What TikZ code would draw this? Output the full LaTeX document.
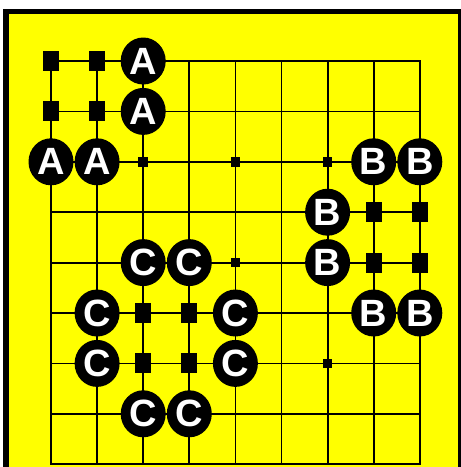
\documentclass[tikz,border=0pt]{standalone}
\usepackage{fontspec}
\setmainfont{Liberation Sans}
\usetikzlibrary{shapes.geometric}

\definecolor{boardyellow}{RGB}{255,255,0}

\tikzset{
  stone/.style={ellipse, fill=black, minimum width=45pt, minimum height=47pt,
    inner sep=0pt, text=white, font=\fontsize{38}{38}\selectfont\bfseries},
  marksq/.style={rectangle, fill=black, minimum width=16pt, minimum height=20pt, inner sep=0pt},
  starpt/.style={rectangle, fill=black, minimum size=9.5pt, inner sep=0pt},
  gridline/.style={line width=1.8pt, line cap=rect},
}

\begin{document}
\begin{tikzpicture}[x=46.1pt, y=-50.4pt]
  \useasboundingbox (0pt,0pt) rectangle (461pt,-467pt);

  % frame
  \fill[black] (3pt,-8.5pt) rectangle (461pt,-470pt);
  \fill[boardyellow] (9pt,-13.5pt) rectangle (458pt,-470pt);

  \begin{scope}[shift={(4.9pt,-10.6pt)}]
    % grid
    \foreach \i in {1,...,9} {
      \draw[gridline] (\i,1) -- (\i,9);
      \draw[gridline] (1,\i) -- (9,\i);
    }

    % star points
    \foreach \c/\r in {3/3,5/3,7/3,5/5,7/7}
      \node[starpt] (s\c\r) at (\c,\r) {};

    % marked points
    \foreach \c/\r in {1/1,2/1,1/2,2/2, 8/4,9/4,8/5,9/5, 3/6,4/6,3/7,4/7}
      \node[marksq] (m\c\r) at (\c,\r) {};

    % stones
    \foreach \c/\r [count=\k] in {3/1,3/2,1/3,2/3}
      \node[stone] (A\k) at (\c,\r) {A};
    \foreach \c/\r [count=\k] in {8/3,9/3,7/4,7/5,8/6,9/6}
      \node[stone] (B\k) at (\c,\r) {B};
    \foreach \c/\r [count=\k] in {3/5,4/5,2/6,2/7,5/6,5/7,3/8,4/8}
      \node[stone] (C\k) at (\c,\r) {C};
  \end{scope}
\end{tikzpicture}
\end{document}
